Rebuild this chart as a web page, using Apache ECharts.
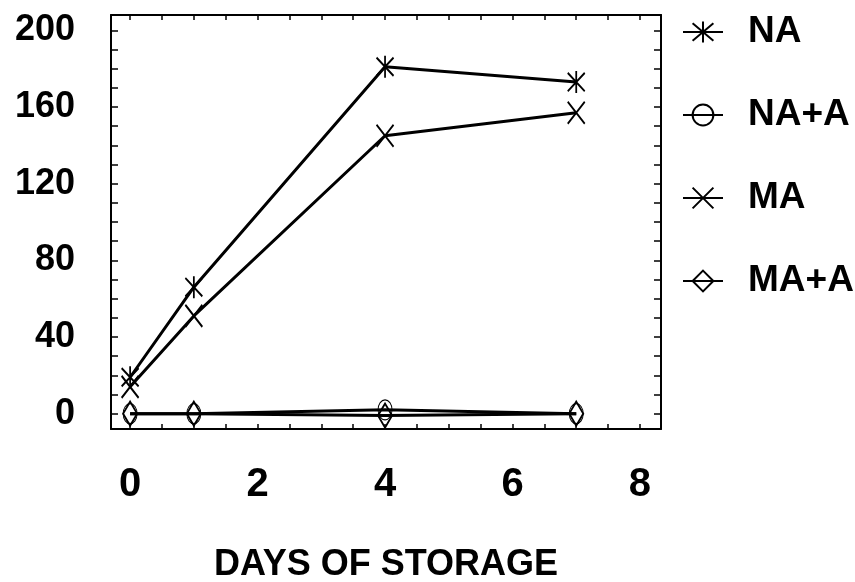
<!DOCTYPE html>
<html>
<head>
<meta charset="utf-8">
<script src="https://cdn.jsdelivr.net/npm/echarts@6/dist/echarts.min.js"></script>
<style>
html,body{margin:0;padding:0;background:#fff;}
#chart{width:855px;height:582px;}
</style>
</head>
<body>
<div id="chart"></div>
<script>
// ---- data ----
var days = [0, 1, 4, 7];
var seriesNames = ['NA', 'NA+A', 'MA', 'MA+A'];
var valuesNA = [19, 66, 181, 173];
var valuesNAA = [0, 0, 2, 0];
var valuesMA = [14, 51, 145, 157];
var valuesMAA = [0, 0, -1, 0];
var xLabelValues = [0, 2, 4, 6, 8];
var xTickValues = [0, 0.5, 1, 1.5, 2, 2.5, 3, 3.5, 4, 4.5, 5, 5.5, 6, 6.5, 7, 7.5, 8];
var yLabelValues = [0, 40, 80, 120, 160, 200];
var yTickValues = [0, 10, 20, 30, 40, 50, 60, 70, 80, 90, 100, 110, 120, 130, 140, 150, 160, 170, 180, 190, 200];
var xTitle = 'DAYS OF STORAGE';

function pairs(vals) {
  return days.map(function (d, i) { return [d, vals[i]]; });
}

var FONT = "'Liberation Sans', Arial, sans-serif";
var asterisk = 'path://M0,0L10,10M10,0L0,10M5,-1L5,11';
var cross = 'path://M0,0L10,10M10,0L0,10';
var diamond = 'path://M5,0L10,5L5,10L0,5Z';
var ellipse = 'path://M5,0A5,5 0 1 1 5,10A5,5 0 1 1 5,0Z';

var chart = echarts.init(document.getElementById('chart'), null, {renderer: 'canvas'});

function lineSeries(name, vals, symbol, size, bw) {
  return {
    name: name,
    type: 'line',
    xAxisIndex: 0,
    yAxisIndex: 0,
    data: pairs(vals),
    symbol: symbol,
    symbolSize: size,
    showAllSymbol: true,
    animation: false,
    lineStyle: {color: '#000', width: 3},
    itemStyle: {color: 'rgba(0,0,0,0)', borderColor: '#000', borderWidth: bw},
    emphasis: {disabled: true}
  };
}

var xCommon = {
  type: 'value', min: -0.3, max: 8.33,
  axisLine: {show: true, onZero: false, lineStyle: {color: '#000', width: 2}},
  axisTick: {show: true, inside: true, length: 5, customValues: xTickValues, lineStyle: {color: '#000', width: 1.5}},
  splitLine: {show: false}
};
var yCommon = {
  type: 'value', min: -8, max: 208,
  axisLine: {show: true, onZero: false, lineStyle: {color: '#000', width: 2}},
  axisTick: {show: true, inside: true, length: 7, customValues: yTickValues, lineStyle: {color: '#000', width: 1.5}},
  splitLine: {show: false}
};

var option = {
  backgroundColor: '#fff',
  animation: false,
  grid: {left: 111, right: 194, top: 15, bottom: 153, containLabel: false, outerBoundsMode: 'none'},
  legend: {
    orient: 'vertical',
    left: 682,
    top: 10,
    padding: 0,
    itemWidth: 40,
    itemHeight: 26,
    itemGap: 39,
    data: seriesNames,
    textStyle: {fontFamily: FONT, fontWeight: 'bold', fontSize: 37, color: '#000', lineHeight: 44, padding: [0, 0, 0, 20]},
    selectedMode: false
  },
  xAxis: [
    Object.assign({}, xCommon, {
      position: 'bottom',
      name: xTitle,
      nameLocation: 'middle',
      nameGap: 118,
      nameTextStyle: {fontFamily: FONT, fontWeight: 'bold', fontSize: 36, color: '#000'},
      axisLabel: {show: true, customValues: xLabelValues, margin: 36, fontFamily: FONT, fontWeight: 'bold', fontSize: 40, color: '#000'}
    }),
    Object.assign({}, xCommon, {position: 'top', axisLabel: {show: false}})
  ],
  yAxis: [
    Object.assign({}, yCommon, {
      position: 'left',
      axisLabel: {show: true, customValues: yLabelValues, margin: 36, fontFamily: FONT, fontWeight: 'bold', fontSize: 36, color: '#000'}
    }),
    Object.assign({}, yCommon, {position: 'right', axisLabel: {show: false}})
  ],
  series: [
    lineSeries('NA', valuesNA, asterisk, [17, 22], 2),
    lineSeries('NA+A', valuesNAA, ellipse, [14, 20], 1),
    lineSeries('MA', valuesMA, cross, [17, 22], 2),
    lineSeries('MA+A', valuesMAA, diamond, [14, 24], 2)
  ]
};
chart.setOption(option);
</script>
</body>
</html>
